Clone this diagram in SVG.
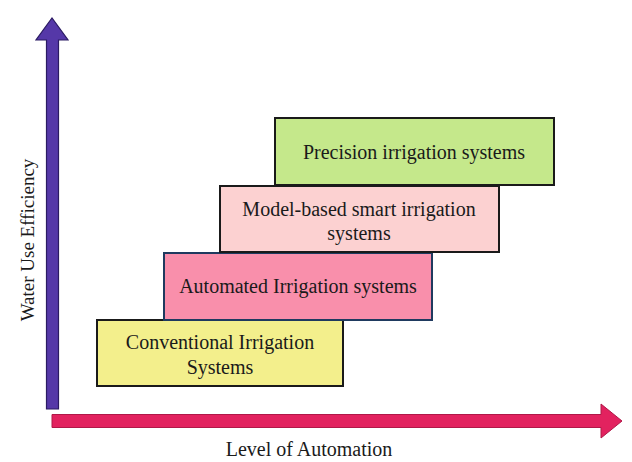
<svg xmlns="http://www.w3.org/2000/svg" width="632" height="462" viewBox="0 0 632 462">
<style>
.box{stroke:#1a1a1a;stroke-width:2}
.t{font-family:"Liberation Serif","Times New Roman",serif;font-size:20px;fill:#1a1a1a;text-anchor:middle}
</style>
<rect width="632" height="462" fill="#ffffff"/>
<g id="connectors">
<g id="y-axis">
<polygon points="46.5,409 46.5,40 36,40 52,18 68,40 58.5,40 58.5,409" fill="#5538a8" stroke="#2b1b63" stroke-width="1.2"/>
</g>
<g id="x-axis">
<polygon points="52,414.5 601,414.5 601,404 622,421 601,438 601,427.5 52,427.5" fill="#e2225f" stroke="#b01848" stroke-width="1"/>
</g>
</g>
<text class="t" x="0" y="0" transform="translate(34,240) rotate(-90)" style="font-size:19px">Water Use Efficiency</text>
<text class="t" x="309" y="456">Level of Automation</text>
<g id="conventional">
<rect class="box" x="97" y="320" width="246" height="66" fill="#f3ef8c"/>
<text class="t" x="220" y="349">Conventional Irrigation</text>
<text class="t" x="220" y="374">Systems</text>
</g>
<g id="automated">
<rect class="box" x="164" y="253" width="268" height="67" fill="#f98fab" style="stroke:#1f3a5f"/>
<text class="t" x="298" y="293">Automated Irrigation systems</text>
</g>
<g id="model-based">
<rect class="box" x="220" y="186" width="279" height="66" fill="#fcd1d1"/>
<text class="t" x="359" y="216">Model-based smart irrigation</text>
<text class="t" x="359" y="240">systems</text>
</g>
<g id="precision">
<rect class="box" x="275" y="118" width="279" height="67" fill="#c5e88b"/>
<text class="t" x="414" y="159">Precision irrigation systems</text>
</g>
</svg>
